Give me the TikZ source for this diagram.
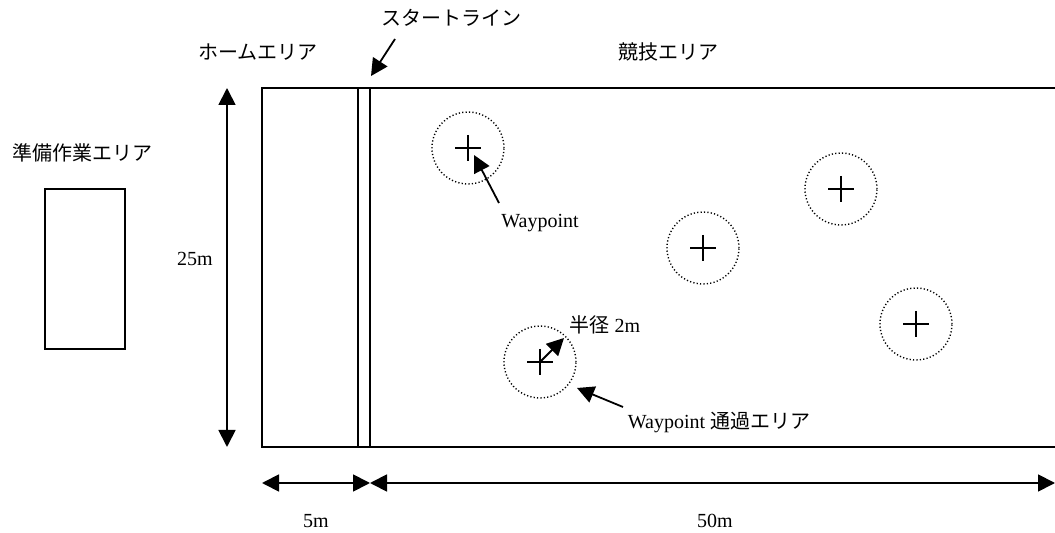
\documentclass[tikz,border=0pt]{standalone}
\usepackage{fontspec}
\setmainfont{Liberation Serif}
\newfontfamily\jp{Noto Sans CJK JP}
\usepackage{tikz}
\usetikzlibrary{arrows.meta}

\begin{document}
\begin{tikzpicture}[x=0.5pt,y=-0.5pt,
    >={Triangle[length=8.5pt,width=8.5pt]},
    wall/.style={line width=0.9pt},
    zone/.style={line width=0.7pt,dash pattern=on 0.6pt off 1.1pt},
    lbl/.style={font=\fontsize{10pt}{12pt}\selectfont,inner sep=1pt}]
    \useasboundingbox (0,0) rectangle (1055,533);
    \draw[wall] (1055,88) -- (262,88) -- (262,447) -- (1055,447);
    \draw[wall] (358,88) rectangle (370,447);
    \draw[wall] (45,189) rectangle (125,349);
    \node[lbl] (prep) at (82,153) {\jp 準備作業エリア};
    \node[lbl] (home) at (258,52) {\jp ホームエリア};
    \node[lbl] (field) at (668,52) {\jp 競技エリア};
    \node[lbl] (start) at (451,18) {\jp スタートライン};
    \coordinate (s0) at (395,39);
    \coordinate (s1) at (371,76);
    \draw[wall,->] (s0) -- (s1);
    \coordinate (h0) at (227,88);
    \coordinate (h1) at (227,447);
    \draw[wall,<->] (h0) -- (h1);
    \node[lbl] (len25) at (195,259) {25m};
    \coordinate (b0) at (262,483);
    \coordinate (b1) at (370,483);
    \coordinate (b2) at (1055,483);
    \draw[wall,<->] (b0) -- (b1);
    \draw[wall,<->] (b1) -- (b2);
    \node[lbl] (len5) at (316,521) {5m};
    \node[lbl] (len50) at (715,521) {50m};
    \foreach \n/\x/\y in {1/468/148,2/841/189,3/703/248,4/916/324,5/540/362}{
        \coordinate (wp\n) at (\x,\y);
        \draw[zone] (wp\n) circle (18pt);
        \draw[line width=0.6pt] (wp\n) +(-13,0) -- +(13,0);
        \draw[line width=0.6pt] (wp\n) +(0,-13) -- +(0,13);
    }
    \node[lbl] (wplabel) at (540,223) {Waypoint};
    \coordinate (w0) at (499,203);
    \coordinate (w1) at (474,155);
    \draw[wall,->] (w0) -- (w1);
    \node[lbl] (radius) at (605,325) {{\jp 半径} 2m};
    \coordinate (r1) at (564,338);
    \draw[wall,->] (wp5) -- (r1);
    \node[lbl] (passarea) at (719,422) {Waypoint {\jp 通過エリア}};
    \coordinate (p0) at (623,407);
    \coordinate (p1) at (577,388);
    \draw[wall,->] (p0) -- (p1);
\end{tikzpicture}
\end{document}
